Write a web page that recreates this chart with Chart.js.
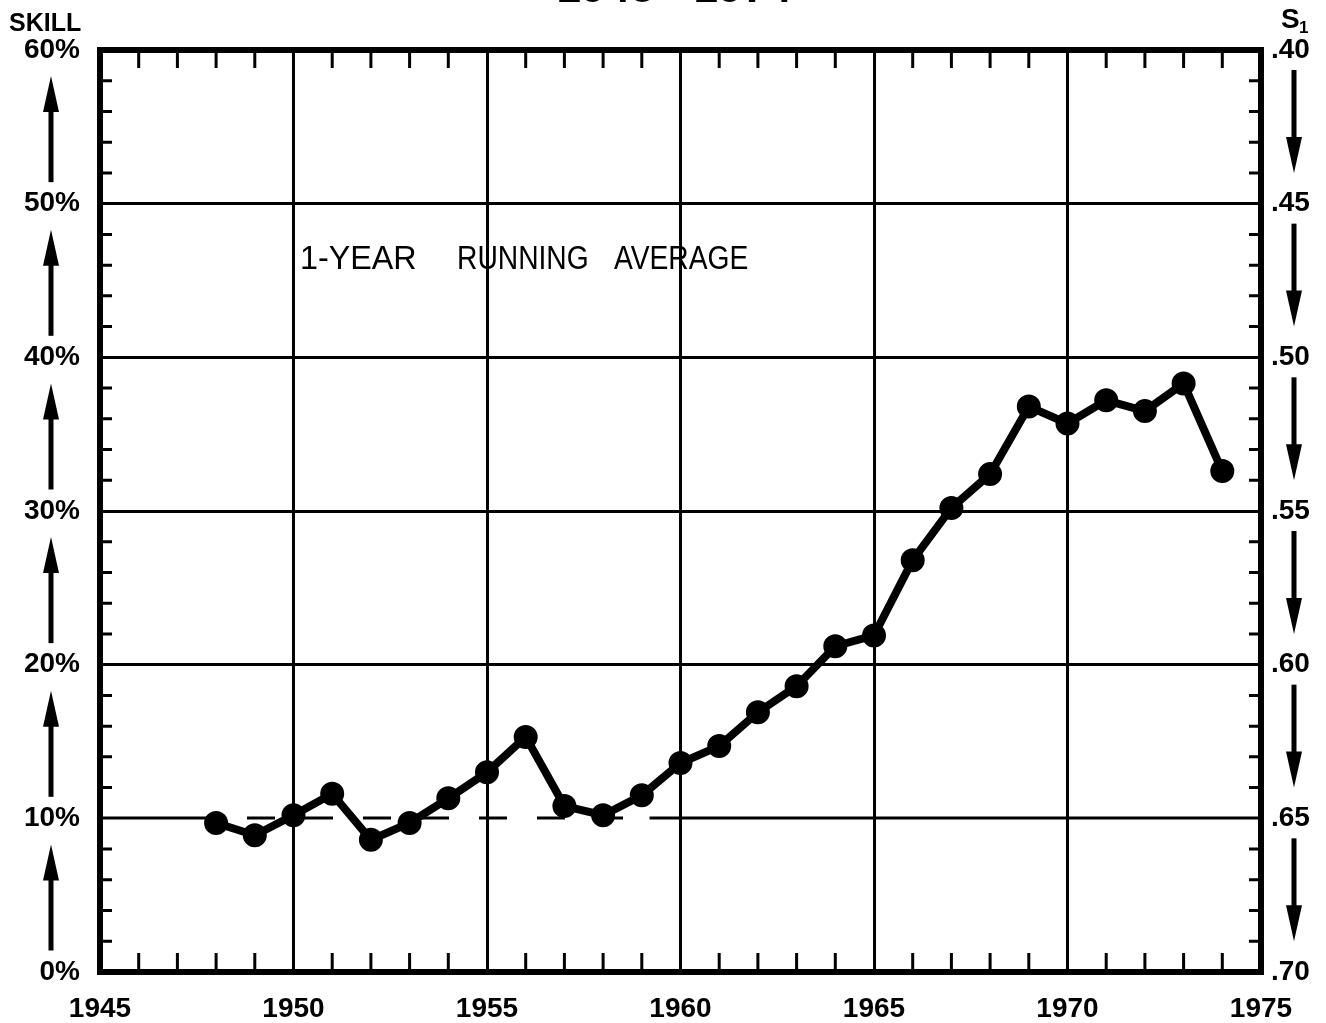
<!DOCTYPE html>
<html>
<head>
<meta charset="utf-8">
<script src="https://cdn.jsdelivr.net/npm/chart.js@4.4.1/dist/chart.umd.min.js"></script>
<style>
  html, body { margin: 0; padding: 0; background: #fff; }
  #wrap { width: 1326px; height: 1023px; position: relative; }
</style>
</head>
<body>
<div id="wrap"><canvas id="myChart" width="1326" height="1023"></canvas></div>
<script>
// skill score by year
var years = [1948, 1949, 1950, 1951, 1952, 1953, 1954, 1955, 1956, 1957, 1958, 1959, 1960,
             1961, 1962, 1963, 1964, 1965, 1966, 1967, 1968, 1969, 1970, 1971, 1972, 1973, 1974];
var skill = [9.7, 8.9, 10.2, 11.6, 8.6, 9.7, 11.3, 13.0, 15.3, 10.8, 10.2, 11.5, 13.6,
             14.7, 16.9, 18.6, 21.2, 21.9, 26.8, 30.2, 32.4, 36.8, 35.7, 37.2, 36.5, 38.3, 32.6];

// 10% reference level: [from, to, dashed?]
var refLevel = 10;
var refFrom = [1945, 1947.3, 1959.2];
var refTo = [1947.3, 1959.2, 1975];
var refDashed = [false, true, false];

var xMin = 1945, xMax = 1975;
var skillMin = 0, skillMax = 60;
var s1Min = 0.40, s1Max = 0.70;

var titleText = "1948 - 1974";
var noteWords = ["1-YEAR", "RUNNING", "AVERAGE"];
var FONT = "'Liberation Sans', Arial, sans-serif";

function arrow(ctx, x, yTail, yTip) {
    var dir = yTip < yTail ? 1 : -1;
    ctx.beginPath();
    ctx.moveTo(x, yTail);
    ctx.lineTo(x, yTip + dir * 20);
    ctx.lineWidth = 5;
    ctx.stroke();
    ctx.beginPath();
    ctx.moveTo(x, yTip);
    ctx.lineTo(x - 8, yTip + dir * 36);
    ctx.lineTo(x + 8, yTip + dir * 36);
    ctx.closePath();
    ctx.fill();
}

function refLine(chart, dashed) {
    const ctx = chart.ctx;
    const x = chart.scales.x, y = chart.scales.y;
    const py = Math.round(y.getPixelForValue(refLevel));
    ctx.save();
    ctx.fillStyle = '#000';
    refFrom.forEach((f, i) => {
        if (refDashed[i] !== dashed) return;
        var x0 = x.getPixelForValue(f), x1 = x.getPixelForValue(refTo[i]);
        if (!dashed) {
            ctx.fillRect(x0, py - 1.5, x1 - x0, 3);
            return;
        }
        for (var d = x0; d < x1; d += 58) {
            ctx.fillRect(d, py - 1.5, Math.min(28, x1 - d), 3);
        }
    });
    ctx.restore();
}

const decor = {
    id: 'decor',
    beforeDatasetsDraw(chart) {
        // dashed part sits under the data line
        refLine(chart, true);
    },
    afterDraw(chart) {
        const ctx = chart.ctx;
        const a = chart.chartArea;
        const x = chart.scales.x, y = chart.scales.y, y2 = chart.scales.y2;

        refLine(chart, false);

        ctx.save();
        ctx.strokeStyle = '#000';
        ctx.fillStyle = '#000';

        // minor ticks, pointing in
        ctx.lineWidth = 3;
        for (var yr = xMin + 1; yr < xMax; yr++) {
            if (yr % 5 === 0) continue;
            var px = x.getPixelForValue(yr);
            ctx.beginPath();
            ctx.moveTo(px, a.bottom); ctx.lineTo(px, a.bottom - 19);
            ctx.moveTo(px, a.top); ctx.lineTo(px, a.top + 18);
            ctx.stroke();
        }
        for (var v = skillMin + 2; v < skillMax; v += 2) {
            if (v % 10 === 0) continue;
            var py = y.getPixelForValue(v);
            ctx.beginPath();
            ctx.moveTo(a.left, py); ctx.lineTo(a.left + 12, py);
            ctx.moveTo(a.right, py); ctx.lineTo(a.right - 12, py);
            ctx.stroke();
        }

        // frame
        ctx.lineWidth = 6;
        ctx.strokeRect(a.left, a.top, a.right - a.left, a.bottom - a.top);

        // arrows: skill up on the left, S1 down on the right
        for (var s = skillMin; s < skillMax; s += 10) {
            arrow(ctx, 51, y.getPixelForValue(s + 1.4), y.getPixelForValue(s + 8.3));
        }
        for (var k = 0; k < 6; k++) {
            var lo = s1Min + k * 0.05;
            arrow(ctx, 1294, y2.getPixelForValue(lo + 0.0065), y2.getPixelForValue(lo + 0.040));
        }

        // texts
        ctx.textBaseline = 'middle';
        ctx.textAlign = 'left';
        ctx.font = 'bold 25px ' + FONT;
        ctx.fillText('SKILL', 9, 24);
        ctx.font = 'bold 28px ' + FONT;
        ctx.fillText('S', 1281, 20);
        ctx.font = 'bold 17px ' + FONT;
        ctx.fillText('1', 1299, 28);

        // lettering on the plot is condensed, squeeze it a bit
        ctx.font = '34px ' + FONT;
        var wordX = [300, 457, 614];
        var squeeze = [0.95, 0.83, 0.83];
        noteWords.forEach((w, i) => {
            ctx.save();
            ctx.translate(wordX[i], 260);
            ctx.scale(squeeze[i], 1);
            ctx.fillText(w, 0, 0);
            ctx.restore();
        });

        ctx.font = 'bold 44px ' + FONT;
        ctx.textAlign = 'center';
        ctx.textBaseline = 'alphabetic';
        ctx.fillText(titleText, 674, 2);
        ctx.restore();
    }
};

const canvas = document.getElementById('myChart');
const tickFont = { family: FONT, size: 28, weight: 'bold' };

new Chart(canvas, {
    type: 'line',
    data: {
        datasets: [
            {
                data: years.map((yr, i) => ({ x: yr, y: skill[i] })),
                borderColor: '#000',
                backgroundColor: '#000',
                borderWidth: 8,
                pointRadius: 8,
                pointBackgroundColor: '#000',
                pointBorderColor: '#000',
                tension: 0
            }
        ]
    },
    options: {
        responsive: false,
        animation: false,
        layout: { padding: { top: 50, left: 0, right: 0, bottom: 0 } },
        plugins: {
            legend: { display: false },
            tooltip: { enabled: false }
        },
        scales: {
            x: {
                type: 'linear',
                min: xMin,
                max: xMax,
                afterFit(scale) { scale.height = 51; },
                border: { display: false },
                grid: {
                    drawTicks: false,
                    lineWidth: 3,
                    color: c => (c.tick.value % 5 === 0 && c.tick.value > xMin && c.tick.value < xMax) ? '#000' : 'rgba(0,0,0,0)'
                },
                ticks: {
                    stepSize: 1,
                    autoSkip: false,
                    maxRotation: 0,
                    padding: 20,
                    color: '#000',
                    font: tickFont,
                    callback: v => v % 5 === 0 ? String(v) : ''
                }
            },
            y: {
                type: 'linear',
                position: 'left',
                min: skillMin,
                max: skillMax,
                afterFit(scale) { scale.width = 100; },
                border: { display: false },
                grid: {
                    drawTicks: false,
                    lineWidth: 3,
                    color: c => (c.tick.value % 10 === 0 && c.tick.value > refLevel && c.tick.value < skillMax) ? '#000' : 'rgba(0,0,0,0)'
                },
                ticks: {
                    stepSize: 2,
                    autoSkip: false,
                    padding: 20,
                    color: '#000',
                    font: tickFont,
                    callback: v => v % 10 === 0 ? v + '%' : ''
                }
            },
            y2: {
                type: 'linear',
                position: 'right',
                min: s1Min,
                max: s1Max,
                reverse: true,
                afterFit(scale) { scale.width = 65; },
                border: { display: false },
                grid: { drawOnChartArea: false, drawTicks: false },
                ticks: {
                    stepSize: 0.05,
                    autoSkip: false,
                    padding: 10,
                    color: '#000',
                    font: tickFont,
                    callback: v => '.' + Math.round(v * 100)
                }
            }
        }
    },
    plugins: [decor]
});
</script>
</body>
</html>
